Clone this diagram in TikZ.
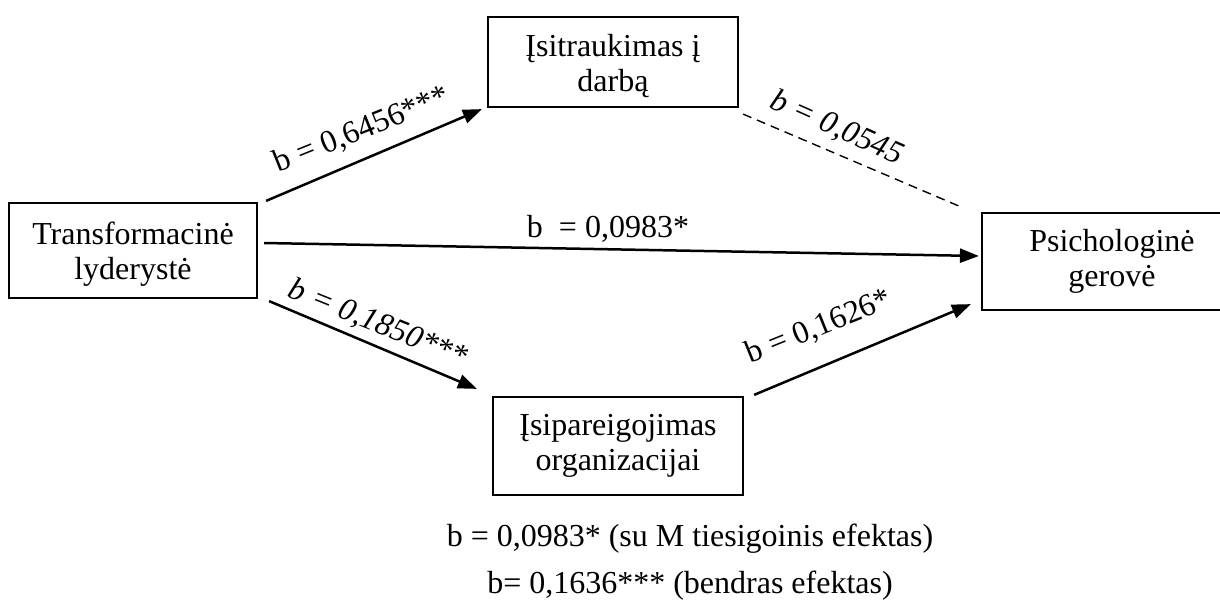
\documentclass[tikz,border=0pt]{standalone}
\usepackage{fontspec}
\setmainfont{Liberation Serif}
\usetikzlibrary{arrows.meta,calc}
\begin{document}
\begin{tikzpicture}[x=1pt,y=-1pt,
  every node/.style={font=\fontsize{32}{35}\selectfont, inner sep=0pt},
  box/.style={draw, line width=2.2pt, align=center},
  arr/.style={line width=2.5pt, -{Triangle[length=19pt,width=14pt]}},
  dsh/.style={line width=1.4pt, dash pattern=on 9pt off 6pt}]
\useasboundingbox (0,0) rectangle (1220,605);
\clip (0,0) rectangle (1220,605);

\node[box, minimum width=248pt, minimum height=95pt] (tl) at (133,250.5) {\rule{0pt}{30pt}Transformacinė\\lyderystė};
\node[box, minimum width=250pt, minimum height=90pt] (it) at (613,62) {\rule{0pt}{30pt}Įsitraukimas į\\darbą};
\node[box, minimum width=250pt, minimum height=98pt] (ip) at (618,446) {Įsipareigojimas\\organizacijai};
\node[box, minimum width=260pt, minimum height=97pt] (ps) at (1112,261.5) {Psichologinė\\gerovė};

\draw[arr] ([xshift=8pt,yshift=1pt]tl.north east) -- ([xshift=-5pt,yshift=-1pt]it.south west);
\draw[dsh] ([xshift=4pt,yshift=-6pt]it.south east) -- ([xshift=-20pt,yshift=5pt]ps.north west);
\draw[arr] ([xshift=6pt,yshift=7.5pt]tl.east) -- ([xshift=-2pt,yshift=5.5pt]ps.west);
\draw[arr] ([xshift=11pt,yshift=-2pt]tl.south east) -- ([xshift=-15pt,yshift=7pt]ip.north west);
\draw[arr] ([xshift=10pt,yshift=1pt]ip.north east) -- ([xshift=-10pt,yshift=7pt]ps.south west);

\node[rotate=22] (l1) at (362,130) {b = 0,6456***};
\node[rotate=-24] (l2) at (837,128) {\itshape b = 0,0545};
\node (l3) at (608,229) {b\ \ = 0,0983*};
\node[rotate=-22] (l4) at (378,324) {\itshape b = 0,1850***};
\node[rotate=22] (l5) at (819,327) {b = 0,1626*};

\node[anchor=base] (n1) at (690,546) {b = 0,0983* (su M tiesigoinis efektas)};
\node[anchor=base] (n2) at (690,593) {b= 0,1636*** (bendras efektas)};
\end{tikzpicture}
\end{document}
